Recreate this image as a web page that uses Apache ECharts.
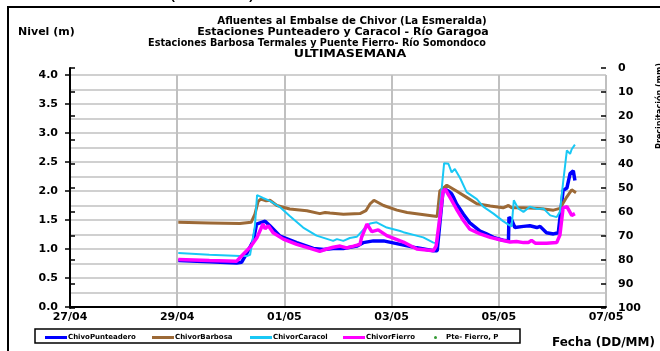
<!DOCTYPE html>
<html>
<head>
<meta charset="utf-8">
<script src="https://cdn.jsdelivr.net/npm/echarts@6/dist/echarts.min.js"></script>
<style>
  html, body { margin: 0; padding: 0; background: #fff; }
  #chart { width: 660px; height: 351px; }
</style>
</head>
<body>
<div id="chart"></div>
<script>
// tiempo en dias desde 27/04 00:00
const dateLabels = ['27/04', '29/04', '01/05', '03/05', '05/05', '07/05'];
const seriesNames = ['ChivoPunteadero', 'ChivorBarbosa', 'ChivorCaracol', 'ChivorFierro', 'Pte- Fierro, P'];

const tPunteadero = [2.02, 2.6, 3.11, 3.20, 3.30, 3.42, 3.48, 3.64, 3.73, 3.92, 4.23, 4.54, 4.73, 4.91, 5.10, 5.35, 5.47, 5.66, 5.85, 6.16, 6.47, 6.78, 6.85, 6.96, 7.00, 7.06, 7.12, 7.15, 7.21, 7.34, 7.46, 7.65, 7.77, 7.90, 8.08, 8.18, 8.19, 8.24, 8.30, 8.46, 8.58, 8.71, 8.77, 8.89, 9.02, 9.11, 9.20, 9.27, 9.33, 9.39, 9.42];
const vPunteadero = [0.80, 0.78, 0.76, 0.77, 0.93, 1.14, 1.43, 1.48, 1.40, 1.22, 1.11, 1.01, 0.99, 1.01, 1.01, 1.05, 1.11, 1.14, 1.14, 1.08, 1.02, 0.97, 0.97, 2.01, 2.03, 2.00, 1.95, 1.90, 1.78, 1.60, 1.45, 1.31, 1.26, 1.20, 1.15, 1.14, 1.55, 1.50, 1.37, 1.39, 1.40, 1.37, 1.39, 1.28, 1.26, 1.28, 2.01, 2.05, 2.30, 2.35, 2.18];

const tBarbosa = [2.02, 2.6, 3.17, 3.38, 3.45, 3.51, 3.56, 3.66, 3.73, 3.86, 4.10, 4.42, 4.66, 4.76, 4.85, 5.10, 5.41, 5.52, 5.60, 5.67, 5.85, 6.10, 6.29, 6.78, 6.85, 6.90, 7.03, 7.21, 7.40, 7.59, 7.84, 8.08, 8.18, 8.24, 8.46, 8.77, 9.02, 9.14, 9.27, 9.36, 9.44];
const vBarbosa = [1.46, 1.45, 1.44, 1.46, 1.60, 1.82, 1.86, 1.83, 1.84, 1.75, 1.69, 1.66, 1.61, 1.63, 1.62, 1.60, 1.61, 1.66, 1.78, 1.84, 1.75, 1.67, 1.63, 1.57, 1.56, 2.00, 2.10, 2.00, 1.89, 1.78, 1.74, 1.71, 1.75, 1.71, 1.71, 1.70, 1.67, 1.70, 1.90, 2.02, 1.97];

const tCaracol = [2.02, 2.6, 3.17, 3.30, 3.36, 3.45, 3.49, 3.56, 3.60, 3.73, 3.92, 4.10, 4.35, 4.60, 4.91, 4.98, 5.10, 5.22, 5.35, 5.47, 5.60, 5.72, 5.91, 6.16, 6.22, 6.59, 6.78, 6.85, 6.90, 6.98, 7.06, 7.12, 7.18, 7.28, 7.40, 7.59, 7.71, 7.90, 8.08, 8.18, 8.24, 8.28, 8.36, 8.46, 8.58, 8.71, 8.83, 8.96, 9.08, 9.14, 9.20, 9.27, 9.33, 9.36, 9.42];
const vCaracol = [0.93, 0.90, 0.88, 0.88, 0.90, 1.40, 1.93, 1.90, 1.88, 1.83, 1.72, 1.57, 1.37, 1.23, 1.14, 1.17, 1.14, 1.19, 1.21, 1.33, 1.44, 1.46, 1.37, 1.31, 1.29, 1.20, 1.11, 1.10, 1.70, 2.48, 2.47, 2.32, 2.38, 2.22, 1.98, 1.86, 1.73, 1.61, 1.48, 1.42, 1.39, 1.84, 1.70, 1.64, 1.73, 1.69, 1.70, 1.58, 1.55, 1.64, 2.15, 2.70, 2.64, 2.72, 2.80];

const tFierro = [2.02, 2.6, 3.11, 3.20, 3.36, 3.49, 3.60, 3.64, 3.70, 3.79, 3.98, 4.23, 4.48, 4.66, 4.79, 4.91, 5.04, 5.16, 5.29, 5.41, 5.44, 5.54, 5.63, 5.75, 5.91, 6.16, 6.22, 6.47, 6.78, 6.83, 6.90, 6.96, 7.00, 7.09, 7.21, 7.34, 7.46, 7.65, 7.84, 8.02, 8.21, 8.33, 8.46, 8.55, 8.61, 8.68, 8.89, 9.08, 9.14, 9.20, 9.27, 9.33, 9.36, 9.39, 9.42];
const vFierro = [0.82, 0.80, 0.79, 0.88, 1.03, 1.20, 1.43, 1.35, 1.40, 1.28, 1.17, 1.08, 1.01, 0.96, 1.00, 1.03, 1.05, 1.02, 1.05, 1.08, 1.20, 1.43, 1.30, 1.33, 1.23, 1.14, 1.12, 1.00, 0.97, 1.05, 1.54, 2.00, 2.03, 1.89, 1.69, 1.49, 1.34, 1.26, 1.20, 1.16, 1.12, 1.13, 1.11, 1.11, 1.15, 1.10, 1.10, 1.11, 1.24, 1.71, 1.73, 1.63, 1.58, 1.60, 1.61];

// precipitacion Pte. Fierro: sin registros visibles
const rainFierro = [];

const FONT = 'DejaVu Sans';

function pairs(ts, vs) {
  return ts.map(function(t, i) { return [t, vs[i]]; });
}

const chart = echarts.init(document.getElementById('chart'));

function legendAt(name, x) {
  return {
    data: [name],
    left: x,
    top: 334,
    padding: 0,
    icon: 'rect',
    itemWidth: 22,
    itemHeight: 3,
    itemGap: 0,
    selectedMode: false,
    textStyle: { fontFamily: FONT, fontSize: 7, fontWeight: 'bold', color: '#000', padding: [0, 0, 0, -4] }
  };
}

function titleLine(text, cx, cy, sx) {
  return {
    type: 'text', x: cx, y: cy, scaleX: sx,
    style: { x: 0, y: 0, text: text, align: 'center', verticalAlign: 'middle',
      font: 'bold 11px "DejaVu Sans"', fill: '#000' }
  };
}

const axisFont = { fontFamily: FONT, fontSize: 11, fontWeight: 'bold', color: '#000' };
const gridGray = '#c0c0c0';

const option = {
  backgroundColor: '#fff',
  animation: false,
  grid: [
    { left: 70, right: 54, top: 75, bottom: 44 },
    { left: 70, right: 54, top: 68, bottom: 43 }
  ],
  xAxis: [
    {
      gridIndex: 0,
      type: 'value',
      min: 0,
      max: 10,
      interval: 2,
      axisLine: { lineStyle: { color: '#000', width: 2 } },
      axisTick: { show: false },
      axisLabel: Object.assign({
        margin: 5,
        formatter: function(v) { return dateLabels[Math.round(v / 2)]; }
      }, axisFont),
      splitLine: { show: true, lineStyle: { color: gridGray, width: 2 } }
    },
    { gridIndex: 1, type: 'value', min: 0, max: 10, show: false }
  ],
  yAxis: [
    {
      // lineas horizontales cada 0.25
      gridIndex: 0,
      type: 'value',
      min: 0,
      max: 4,
      interval: 0.25,
      axisLine: { show: false },
      axisTick: { show: false },
      axisLabel: { show: false },
      splitLine: { show: true, lineStyle: { color: gridGray, width: 1.5 } }
    },
    {
      gridIndex: 0,
      type: 'value',
      position: 'left',
      min: 0,
      max: 4,
      interval: 0.5,
      axisLine: { show: true, lineStyle: { color: '#000', width: 2 } },
      axisTick: { show: true, length: 5, lineStyle: { color: '#000', width: 1.5 } },
      axisLabel: Object.assign({
        margin: 12,
        formatter: function(v) { return v.toFixed(1); }
      }, axisFont),
      splitLine: { show: false }
    },
    {
      gridIndex: 1,
      type: 'value',
      position: 'right',
      inverse: true,
      min: 0,
      max: 100,
      interval: 10,
      axisLine: { show: true, lineStyle: { color: '#000', width: 2 } },
      axisTick: { show: true, length: 5, lineStyle: { color: '#000', width: 1.5 } },
      axisLabel: Object.assign({ margin: 12 }, axisFont),
      splitLine: { show: false }
    },
    {
      gridIndex: 1,
      type: 'value',
      position: 'right',
      inverse: true,
      min: 0,
      max: 100,
      interval: 10,
      axisLine: { show: false },
      axisTick: { show: true, inside: true, length: 5, lineStyle: { color: '#000', width: 1.5 } },
      axisLabel: { show: false },
      splitLine: { show: false }
    }
  ],
  legend: [
    legendAt(seriesNames[0], 45),
    legendAt(seriesNames[1], 152),
    legendAt(seriesNames[2], 250),
    legendAt(seriesNames[3], 343),
    {
      data: [seriesNames[4]], left: 434, top: 334, padding: 0, icon: 'circle',
      itemWidth: 3, itemHeight: 3, selectedMode: false,
      textStyle: { fontFamily: FONT, fontSize: 7, fontWeight: 'bold', color: '#000', padding: [0, 0, 0, 4] }
    }
  ],
  series: [
    {
      name: seriesNames[0], type: 'line', xAxisIndex: 0, yAxisIndex: 1,
      data: pairs(tPunteadero, vPunteadero), symbol: 'none', color: '#0000ff',
      lineStyle: { width: 3.5, color: '#0000ff' }, z: 3
    },
    {
      name: seriesNames[1], type: 'line', xAxisIndex: 0, yAxisIndex: 1,
      data: pairs(tBarbosa, vBarbosa), symbol: 'none', color: '#9c6936',
      lineStyle: { width: 3, color: '#9c6936' }, z: 4
    },
    {
      name: seriesNames[2], type: 'line', xAxisIndex: 0, yAxisIndex: 1,
      data: pairs(tCaracol, vCaracol), symbol: 'none', color: '#19c8f5',
      lineStyle: { width: 2, color: '#19c8f5' }, z: 5
    },
    {
      name: seriesNames[3], type: 'line', xAxisIndex: 0, yAxisIndex: 1,
      data: pairs(tFierro, vFierro), symbol: 'none', color: '#ff00ff',
      lineStyle: { width: 3.5, color: '#ff00ff' }, z: 6
    },
    {
      name: seriesNames[4], type: 'scatter', xAxisIndex: 1, yAxisIndex: 2,
      data: rainFierro, symbol: 'circle', symbolSize: 3, color: '#008000', z: 7
    }
  ],
  graphic: [
    {
      type: 'text', z: -1,
      style: { x: 256, y: -7, text: 'La Esmeralda (Chivor)', align: 'right', verticalAlign: 'middle',
        font: '22px "DejaVu Sans"', fill: '#000' }
    },
    {
      type: 'rect', z: -2, silent: true,
      shape: { x: 8, y: 7, width: 660, height: 350 },
      style: { fill: '#fff', stroke: '#000', lineWidth: 2 }
    },
    titleLine('Afluentes al Embalse de Chivor (La Esmeralda)', 352, 21, 0.93),
    titleLine('Estaciones Punteadero y Caracol - Río Garagoa', 343, 32, 1.0),
    titleLine('Estaciones Barbosa Termales y Puente Fierro- Río Somondoco', 317, 43, 0.88),
    titleLine('ULTIMASEMANA', 350, 54, 1.15),
    { type: 'text', style: { x: 18, y: 32, text: 'Nivel (m)', verticalAlign: 'middle', font: 'bold 11px "DejaVu Sans"', fill: '#000' } },
    { type: 'text', style: { x: 552, y: 343, text: 'Fecha (DD/MM)', verticalAlign: 'middle', font: 'bold 12px "DejaVu Sans"', fill: '#000' } },
    {
      type: 'text', x: 660, y: 106, rotation: Math.PI / 2,
      style: { x: 0, y: 0, text: 'Precipitación (mm)', align: 'center', verticalAlign: 'middle', font: 'bold 8px "DejaVu Sans"', fill: '#000' }
    },
    {
      type: 'rect', z: -1, silent: true,
      shape: { x: 35, y: 329, width: 485, height: 14 },
      style: { fill: '#fff', stroke: '#000', lineWidth: 1.5 }
    }
  ]
};
chart.setOption(option);
</script>
</body>
</html>
